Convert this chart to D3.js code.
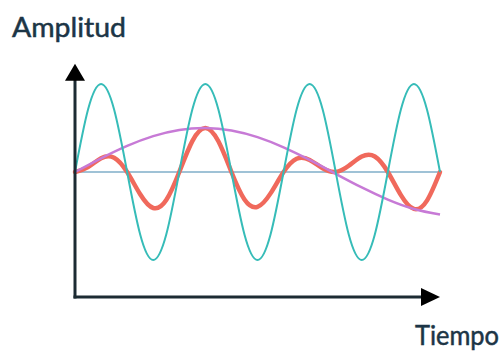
<!DOCTYPE html>
<html>
<head>
<meta charset="utf-8">
<script src="https://cdn.jsdelivr.net/npm/d3@7/dist/d3.min.js"></script>
<style>
  html, body { margin: 0; padding: 0; background: #ffffff; }
  svg { display: block; }
</style>
</head>
<body>
<svg id="chart" width="504" height="351"></svg>
<script>
// Sample times (in half-periods of the fast wave)
const time = [0, 0.25, 0.5, 0.75, 1, 1.25, 1.5, 1.75, 2, 2.25, 2.5, 2.75, 3, 3.25, 3.5, 3.75,
              4, 4.25, 4.5, 4.75, 5, 5.25, 5.5, 5.75, 6, 6.25, 6.5, 6.75, 7];

// Fast wave (teal)
const fastWave = [0, 0.71, 1, 0.71, 0, -0.71, -1, -0.71, 0, 0.71, 1, 0.71, 0, -0.71, -1, -0.71,
                  0, 0.71, 1, 0.71, 0, -0.71, -1, -0.71, 0, 0.71, 1, 0.71, 0];

// Resulting wave (red)
const resultWave = [0, 0.056, 0.157, 0.163, 0, -0.253, -0.409, -0.319, 0, 0.351, 0.5, 0.349, 0,
                    -0.312, -0.396, -0.243, 0, 0.150, 0.137, 0.042, 0, 0.071, 0.176, 0.176, 0,
                    -0.263, -0.42, -0.325, 0];

// Slow wave (purple)
const slowTime = [0, 0.5, 1, 1.5, 2, 2.5, 3, 3.5, 4, 4.5, 5, 5.5, 6, 6.5, 7];
const slowWave = [0, 0.156, 0.297, 0.408, 0.478, 0.5, 0.472, 0.396, 0.28, 0.137, -0.021,
                  -0.176, -0.314, -0.42, -0.484];

// Axis labels
const yLabel = "Amplitud";
const xLabel = "Tiempo";

const svg = d3.select("#chart");

const x = d3.scaleLinear().domain([0, 7]).range([75, 440]);
const y = d3.scaleLinear().domain([-1, 1]).range([260, 84]);

// axis extents in data units
const yAxisBottom = -1.42, yAxisTop = 1.23;
const xAxisEnd = 7;

const axisColor = "#1c2b33";
const textColor = "#1c3546";

// baseline (zero amplitude)
svg.append("line")
  .attr("x1", x(0)).attr("x2", x(7))
  .attr("y1", y(0)).attr("y2", y(0))
  .attr("stroke", "#9fc2d6")
  .attr("stroke-width", 2);

const line = (xs, ys) => d3.line()
  .x((d, i) => x(xs[i]))
  .y((d, i) => y(ys[i]))
  .curve(d3.curveNatural)(ys);

// resulting wave
svg.append("path")
  .attr("d", line(time, resultWave))
  .attr("fill", "none")
  .attr("stroke", "#f0695c")
  .attr("stroke-width", 4.5)
  .attr("stroke-linecap", "round");

// slow wave
svg.append("path")
  .attr("d", line(slowTime, slowWave))
  .attr("fill", "none")
  .attr("stroke", "#c77ad6")
  .attr("stroke-width", 2.5);

// fast wave
svg.append("path")
  .attr("d", line(time, fastWave))
  .attr("fill", "none")
  .attr("stroke", "#36bcb8")
  .attr("stroke-width", 2);

// axes with arrowheads
const ox = x(0), oy = y(yAxisBottom);
const yTip = y(yAxisTop), xTip = x(xAxisEnd);

svg.append("line")
  .attr("x1", ox).attr("x2", ox)
  .attr("y1", oy + 1.5).attr("y2", yTip + 10)
  .attr("stroke", axisColor).attr("stroke-width", 3);
svg.append("line")
  .attr("x1", ox - 1.5).attr("x2", xTip - 10)
  .attr("y1", oy).attr("y2", oy)
  .attr("stroke", axisColor).attr("stroke-width", 3);

svg.append("path")
  .attr("d", `M${ox},${yTip} L${ox + 10},${yTip + 17} L${ox - 10},${yTip + 17} Z`)
  .attr("fill", "#000");
svg.append("path")
  .attr("d", `M${xTip},${oy} L${xTip - 19},${oy - 9} L${xTip - 19},${oy + 9} Z`)
  .attr("fill", "#000");

// labels
const addLabel = (tx, ty, len, str) => svg.append("text")
  .attr("x", tx).attr("y", ty)
  .attr("font-family", "Lato, 'Open Sans', sans-serif")
  .attr("font-size", 27)
  .attr("fill", textColor)
  .attr("stroke", textColor)
  .attr("stroke-width", 0.5)
  .attr("textLength", len)
  .attr("lengthAdjust", "spacingAndGlyphs")
  .text(str);

addLabel(12, 37, 114, yLabel);
addLabel(415, 345, 84, xLabel);
</script>
</body>
</html>
